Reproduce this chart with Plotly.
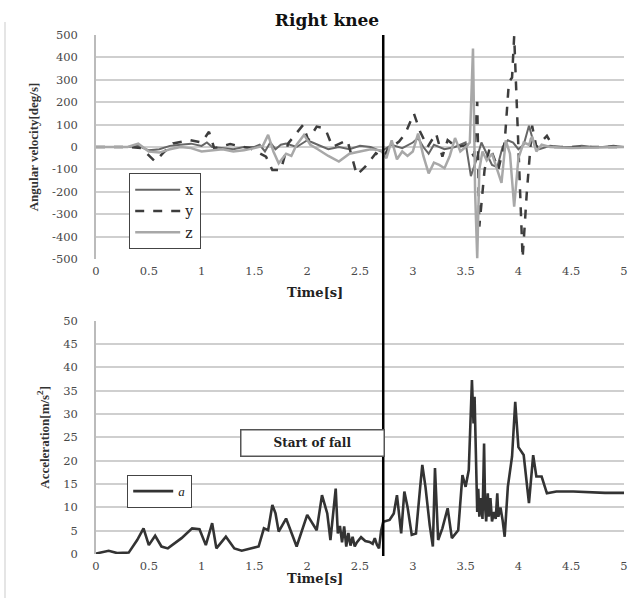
import plotly.graph_objects as go

# ---------------- data ----------------
# angular velocity, x component
t_x = [0, 0.3, 0.4, 0.5, 0.6, 0.7, 0.8, 0.9, 1.0, 1.05, 1.1, 1.2, 1.3, 1.4, 1.5, 1.55, 1.6, 1.65,
       1.7, 1.75, 1.8, 1.9, 2.0, 2.05, 2.1, 2.2, 2.3, 2.4, 2.5, 2.6, 2.7, 2.8, 2.9, 3.0, 3.05, 3.1,
       3.15, 3.2, 3.3, 3.4, 3.5, 3.55, 3.6, 3.65, 3.7, 3.75, 3.8, 3.85, 3.9, 3.95, 4.0, 4.05, 4.1,
       4.15, 4.2, 4.3, 4.4, 4.5, 4.6, 4.7, 4.8, 4.9, 5.0]
w_x = [0, 0, 5, -15, -10, 5, 10, 15, 5, 20, 0, -5, -10, 0, 0, 10, -20, 20,
       -10, 10, 15, 0, 30, 20, 10, -10, 0, -10, 5, 0, -20, 10, -5, 20, 40, 0,
       -30, 10, -10, 0, 20, -130, -60, 20, -30, -80, -90, 0, 30, 20, -10, 10, 95,
       10, -10, 5, 0, 0, 5, 0, 0, 5, 0]

# angular velocity, y component
t_y = [0, 0.3, 0.43, 0.56, 0.65, 0.73, 0.89, 1.0, 1.07, 1.12, 1.27, 1.46, 1.61, 1.67, 1.75, 1.82,
       1.96, 2.01, 2.09, 2.17, 2.24, 2.38, 2.47, 2.55, 2.65, 2.72, 2.76, 2.87, 2.93, 3.01, 3.07,
       3.14, 3.22, 3.28, 3.33, 3.41, 3.52, 3.58, 3.61, 3.63, 3.68, 3.73, 3.81, 3.87, 3.91, 3.94,
       3.96, 4.0, 4.04, 4.08, 4.13, 4.17, 4.27, 4.33, 4.5, 5.0]
w_y = [0, 0, -5, -65, -20, 16, 31, 20, 68, -6, 13, -6, -43, -103, -103, 16,
       98, 31, 91, 83, 0, 31, -125, -88, -28, -50, -13, 24, 61, 150, 68,
       0, 61, -43, 31, 0, 9, -43, 202, -355, -100, 0, -100, 20, 290, 310,
       495, 0, -495, -200, 95, 0, 50, 0, 0, 0]

# angular velocity, z component
t_z = [0, 0.3, 0.4, 0.5, 0.6, 0.7, 0.8, 0.9, 1.0, 1.1, 1.2, 1.3, 1.4, 1.5, 1.58, 1.63, 1.68, 1.73,
       1.8, 1.85, 1.9, 1.97, 2.03, 2.1, 2.2, 2.3, 2.4, 2.5, 2.6, 2.7, 2.75, 2.8, 2.85, 2.9, 2.95,
       3.0, 3.05, 3.1, 3.15, 3.2, 3.25, 3.3, 3.35, 3.4, 3.45, 3.5, 3.54, 3.57, 3.59, 3.61, 3.63,
       3.66, 3.7, 3.75, 3.8, 3.84, 3.88, 3.92, 3.96, 4.0, 4.05, 4.1, 4.13, 4.17, 4.22, 4.3, 4.5, 5.0]
w_z = [0, 0, 15, -20, -25, -10, 0, -5, -20, -15, -10, -20, -15, -5, 5, 54, -20, -73,
       -30, -40, 10, 54, 10, -10, -40, -65, -30, -20, -10, -15, -50, 30, -55, -20, -40,
       -20, 60, -40, -118, -70, -80, -95, -40, 40, -20, 0, 20, 440, -200, -497, -100,
       -20, -60, -30, -100, -160, 30, -30, -266, -50, 20, 10, 46, -20, 10, 0, -5, 0]

# acceleration magnitude
t_a = [0, 0.12, 0.2, 0.31, 0.39, 0.45, 0.5, 0.56, 0.62, 0.68,
       0.81, 0.91, 0.98, 1.04, 1.1, 1.14, 1.23, 1.31, 1.38, 1.48,
       1.54, 1.59, 1.63, 1.67, 1.7, 1.73, 1.8, 1.9, 2.0, 2.09,
       2.14, 2.19, 2.22, 2.27, 2.29, 2.31, 2.33, 2.35, 2.37, 2.39,
       2.41, 2.43, 2.45, 2.47, 2.51, 2.55, 2.59, 2.62, 2.64, 2.66,
       2.68, 2.70, 2.72, 2.78, 2.82, 2.85, 2.89, 2.92, 2.95, 2.99,
       3.03, 3.07, 3.09, 3.12, 3.16, 3.19, 3.21, 3.24, 3.28, 3.33,
       3.37, 3.43, 3.47, 3.5, 3.53, 3.56, 3.575, 3.585, 3.6, 3.61,
       3.62, 3.63, 3.645, 3.66, 3.675, 3.685, 3.695, 3.71, 3.72, 3.735,
       3.75, 3.77, 3.785, 3.8, 3.81, 3.83, 3.85, 3.87, 3.9, 3.94,
       3.97, 4.0, 4.05, 4.1, 4.14, 4.17, 4.22, 4.27, 4.36, 4.52,
       4.82, 5.0]
acc = [0.1, 0.7, 0.2, 0.3, 3.0, 5.5, 1.9, 3.9, 1.6, 1.2,
       3.4, 5.5, 5.3, 1.9, 6.6, 1.2, 3.7, 1.2, 0.7, 1.2,
       1.6, 5.5, 5.1, 10.5, 8.7, 4.8, 7.6, 1.6, 8.4, 5.1,
       12.6, 8.7, 3.0, 14.0, 4.4, 6.0, 2.5, 5.9, 1.6, 4.5,
       1.8, 3.7, 1.6, 2.5, 3.6, 2.8, 2.6, 2.2, 3.4, 2.0,
       1.2, 5.0, 6.9, 7.3, 8.7, 12.6, 4.4, 13.4, 10.1, 4.1,
       4.4, 14.4, 19.1, 14.4, 6.2, 1.6, 18.4, 3.0, 5.5, 9.8,
       3.4, 5.1, 16.9, 14.4, 18.0, 37.3, 28.0, 33.7, 20.0, 9.0,
       14.0, 8.0, 12.0, 7.5, 23.7, 10.0, 7.0, 13.0, 8.0, 12.0,
       7.0, 9.0, 7.5, 13.0, 8.0, 10.0, 7.3, 3.7, 14.4, 20.9,
       32.6, 22.9, 21.2, 10.9, 21.2, 16.6, 16.6, 13.0, 13.4, 13.4,
       13.1, 13.1]

fall_start = 2.72

time_ticks = [0, 0.5, 1, 1.5, 2, 2.5, 3, 3.5, 4, 4.5, 5]
time_labels = ["0", "0.5", "1", "1.5", "2", "2.5", "3", "3.5", "4", "4.5", "5"]
ang_ticks = [-500, -400, -300, -200, -100, 0, 100, 200, 300, 400, 500]
ang_labels = ["-500", "-400", "-300", "-200", "-100", "0", "100", "200", "300", "400", "500"]
acc_ticks = [0, 5, 10, 15, 20, 25, 30, 35, 40, 45, 50]
acc_labels = ["0", "5", "10", "15", "20", "25", "30", "35", "40", "45", "50"]

# ---------------- figure ----------------
W, H = 632, 598
SERIF_W = "DejaVu Serif"
SERIF = "Liberation Serif"
GRID = "#cfcfcf"
TICKFONT = dict(family=SERIF_W, size=11.5, color="#484848")

fig = go.Figure()
fig.add_trace(go.Scatter(x=t_x, y=w_x, mode="lines", name="x",
                         line=dict(color="#666666", width=2), xaxis="x", yaxis="y", legend="legend"))
fig.add_trace(go.Scatter(x=t_y, y=w_y, mode="lines", name="y",
                         line=dict(color="#3d3d3d", width=2.5, dash="dash"), xaxis="x", yaxis="y",
                         legend="legend"))
fig.add_trace(go.Scatter(x=t_z, y=w_z, mode="lines", name="z",
                         line=dict(color="#a8a8a8", width=2.5), xaxis="x", yaxis="y", legend="legend"))
fig.add_trace(go.Scatter(x=t_a, y=acc, mode="lines", name="<i>a</i>",
                         line=dict(color="#333333", width=2.6), xaxis="x2", yaxis="y2",
                         legend="legend2"))

xdom = [96 / W, 624 / W]
top_dom = [1 - 259 / H, 1 - 35 / H]
bot_dom = [1 - 554 / H, 1 - 320.7 / H]

axis_common = dict(showgrid=False, zeroline=False, range=[0, 5], tickvals=time_ticks,
                   ticktext=time_labels, tickfont=TICKFONT, ticks="", showline=False,
                   ticklabelstandoff=3, automargin=False)
fig.update_layout(
    width=W, height=H,
    paper_bgcolor="white", plot_bgcolor="white",
    margin=dict(l=0, r=0, t=0, b=0, autoexpand=False),
    showlegend=True,
    title=dict(text="<b>Right knee</b>", x=327 / W, xanchor="center", y=1 - 20 / H,
               yanchor="middle", automargin=False,
               font=dict(family=SERIF_W, size=17, color="#111111")),
    xaxis=dict(domain=xdom, anchor="y", **axis_common),
    xaxis2=dict(domain=xdom, anchor="y2", **axis_common),
    yaxis=dict(domain=top_dom, anchor="x", range=[-500, 500], tickvals=ang_ticks,
               ticktext=ang_labels, showgrid=True, gridcolor=GRID, gridwidth=1.6,
               zeroline=False, showline=True, linecolor="#bbbbbb", linewidth=1.5,
               tickfont=TICKFONT, ticklabelstandoff=14, automargin=False,
               title=dict(text="<b>Angular velocity[deg/s]</b>", standoff=11,
                          font=dict(family=SERIF, size=13, color="#333333"))),
    yaxis2=dict(domain=bot_dom, anchor="x2", range=[0, 50], tickvals=acc_ticks,
                ticktext=acc_labels, showgrid=True, gridcolor=GRID, gridwidth=1.6,
                zeroline=False, showline=True, linecolor="#bbbbbb", linewidth=1.5,
                tickfont=TICKFONT, ticklabelstandoff=14, automargin=False,
                title=dict(text="<b>Acceleration[m/s<sup>2</sup>]</b>", standoff=11,
                           font=dict(family=SERIF, size=13, color="#333333"))),
    legend=dict(x=129 / W, y=1 - 173 / H, xanchor="left", yanchor="top",
                bgcolor="white", bordercolor="#444444", borderwidth=1.2,
                font=dict(family=SERIF_W, size=14, color="#222222"),
                itemwidth=45, tracegroupgap=0),
    legend2=dict(x=127 / W, y=1 - 475 / H, xanchor="left", yanchor="top",
                 bgcolor="white", bordercolor="#444444", borderwidth=1.2,
                 font=dict(family=SERIF, size=13, color="#222222"), itemwidth=40),
)

# vertical "start of fall" line spanning both panels
fig.add_shape(type="line", xref="x", yref="paper", x0=fall_start, x1=fall_start,
              y0=1 - 556 / H, y1=1 - 35 / H, line=dict(color="black", width=2.5))
# faint chart frame at left
fig.add_shape(type="line", xref="paper", yref="paper", x0=5 / W, x1=5 / W,
              y0=0, y1=1 - 22 / H, line=dict(color="#dddddd", width=1.5))

fig.add_annotation(x=2.05, y=23.8, xref="x2", yref="y2", text="<b>Start of fall</b>",
                   showarrow=False, font=dict(family=SERIF_W, size=12, color="#222222"),
                   bgcolor="white", bordercolor="#555555", borderwidth=1.5, borderpad=1,
                   width=140, height=23)
# x-axis titles
fig.add_annotation(x=315 / W, y=1 - 292 / H, xref="paper", yref="paper", text="<b>Time[s]</b>",
                   showarrow=False, font=dict(family=SERIF_W, size=13, color="#222222"))
fig.add_annotation(x=315 / W, y=1 - 588 / H, xref="paper", yref="paper", text="<b>Time[s]</b>",
                   showarrow=False, font=dict(family=SERIF_W, size=13, color="#222222"))

fig.write_html("out.html", config={"displayModeBar": False},
               post_script="document.body.style.margin='0';")
